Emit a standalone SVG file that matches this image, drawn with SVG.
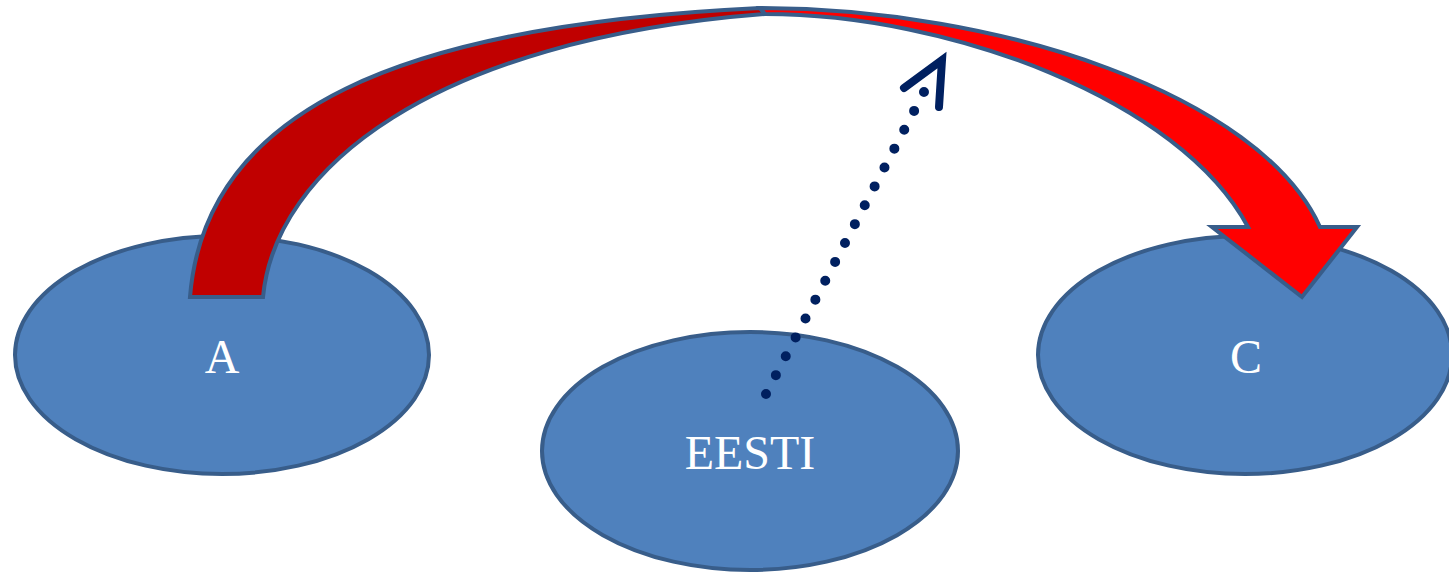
<svg xmlns="http://www.w3.org/2000/svg" width="1449" height="573" viewBox="0 0 1449 573">
<style>
.node ellipse{fill:#4F81BD;stroke:#385D8A;stroke-width:4}
.node text{font-family:"Liberation Serif","Times New Roman",serif;font-size:48px;fill:#FFFFFF;text-anchor:middle}
.arc{stroke:#385D8A;stroke-width:4;stroke-linejoin:miter}
.dots{fill:none;stroke:#002060;stroke-width:10;stroke-linecap:round;stroke-dasharray:0 21.3}
.head{fill:none;stroke:#002060;stroke-width:8;stroke-linecap:round;stroke-linejoin:miter}
</style>
<rect width="1449" height="573" fill="#FFFFFF"/>
<g id="node-A" class="node">
<ellipse cx="222" cy="355" rx="207" ry="119"/>
<text x="222" y="373">A</text>
</g>
<g id="node-EESTI" class="node">
<ellipse cx="750" cy="451" rx="208" ry="119"/>
<text x="750" y="469">EESTI</text>
</g>
<g id="node-C" class="node">
<ellipse cx="1245" cy="355" rx="207" ry="119"/>
<text x="1246" y="373">C</text>
</g>
<g id="connectors">
<path class="arc" fill="#C00000" d="M190,297 C205,110 400,25 760,8 L765,14 C430,40 275,170 263,297 Z"/>
<path class="arc" fill="#FF0000" d="M760,8 C1000,8 1260,95 1320,227 L1357,227 L1302,297 L1212,227 L1248,227 C1180,100 950,14 765,14 Z"/>
<path class="dots" d="M766,394 L924,92"/>
<polyline class="head" points="904,88 942,60 939,107"/>
</g>
</svg>
